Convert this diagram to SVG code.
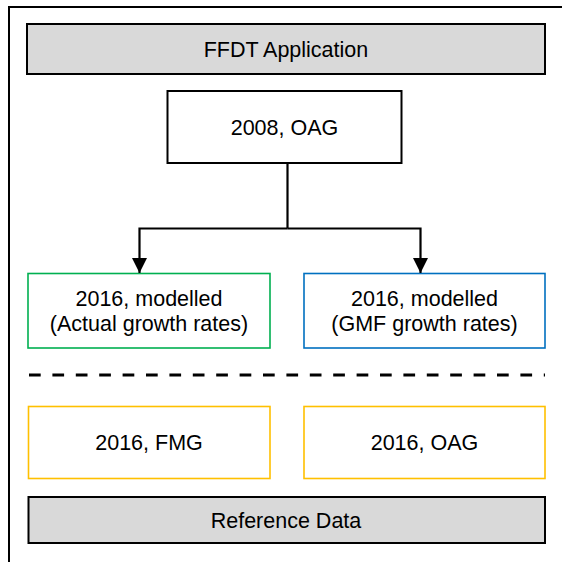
<svg xmlns="http://www.w3.org/2000/svg" width="562" height="562" viewBox="0 0 562 562">
  <defs>
    <style>
      .lbl { font-family: "Liberation Sans", Arial, sans-serif; font-size: 21.5px; fill: #000; text-anchor: middle; }
      .gray { fill: #D9D9D9; stroke: #000; stroke-width: 2; }
      .plain { fill: #fff; stroke: #000; stroke-width: 2; }
      .green { fill: #fff; stroke: #00B050; stroke-width: 1.6; }
      .blue { fill: #fff; stroke: #0070C0; stroke-width: 1.6; }
      .yellow { fill: #fff; stroke: #FFC000; stroke-width: 1.6; }
      .conn { fill: none; stroke: #000; stroke-width: 2.2; }
    </style>
    <marker id="arrow" markerUnits="userSpaceOnUse" markerWidth="16" markerHeight="16" refX="15" refY="7.5" orient="auto">
      <path d="M0,0 L15,7.5 L0,15 Z" fill="#000"/>
    </marker>
  </defs>

  <rect id="frame" x="9" y="7" width="600" height="600" fill="#fff" stroke="#000" stroke-width="2"/>

  <g id="ffdt-application">
    <rect class="gray" x="27" y="24" width="518" height="50"/>
    <text class="lbl" x="286" y="57">FFDT Application</text>
  </g>

  <g id="oag-2008">
    <rect class="plain" x="167.5" y="91" width="234" height="72"/>
    <text class="lbl" x="284.5" y="134.5">2008, OAG</text>
  </g>

  <g id="modelled-actual">
    <rect class="green" x="28" y="273.5" width="242" height="74.5"/>
    <text class="lbl" x="149" y="305.5">2016, modelled</text>
    <text class="lbl" x="149" y="331">(Actual growth rates)</text>
  </g>

  <g id="modelled-gmf">
    <rect class="blue" x="304" y="273.5" width="241" height="74.5"/>
    <text class="lbl" x="424.5" y="305.5">2016, modelled</text>
    <text class="lbl" x="424.5" y="331">(GMF growth rates)</text>
  </g>

  <g id="fmg-2016">
    <rect class="yellow" x="28.5" y="406.5" width="241.5" height="72"/>
    <text class="lbl" x="149" y="450">2016, FMG</text>
  </g>

  <g id="oag-2016">
    <rect class="yellow" x="304" y="406.5" width="241" height="72"/>
    <text class="lbl" x="424.5" y="450">2016, OAG</text>
  </g>

  <g id="reference-data">
    <rect class="gray" x="28.5" y="497" width="516.5" height="46"/>
    <text class="lbl" x="286" y="527.5">Reference Data</text>
  </g>

  <g id="connectors">
    <path class="conn" d="M287.5,163 V228.5"/>
    <path class="conn" d="M287.5,228.5 H139.5 V273" marker-end="url(#arrow)"/>
    <path class="conn" d="M287.5,228.5 H420.5 V273" marker-end="url(#arrow)"/>
    <line x1="29" y1="375" x2="545" y2="375" stroke="#000" stroke-width="3" stroke-dasharray="11.7 11.7"/>
  </g>
</svg>
